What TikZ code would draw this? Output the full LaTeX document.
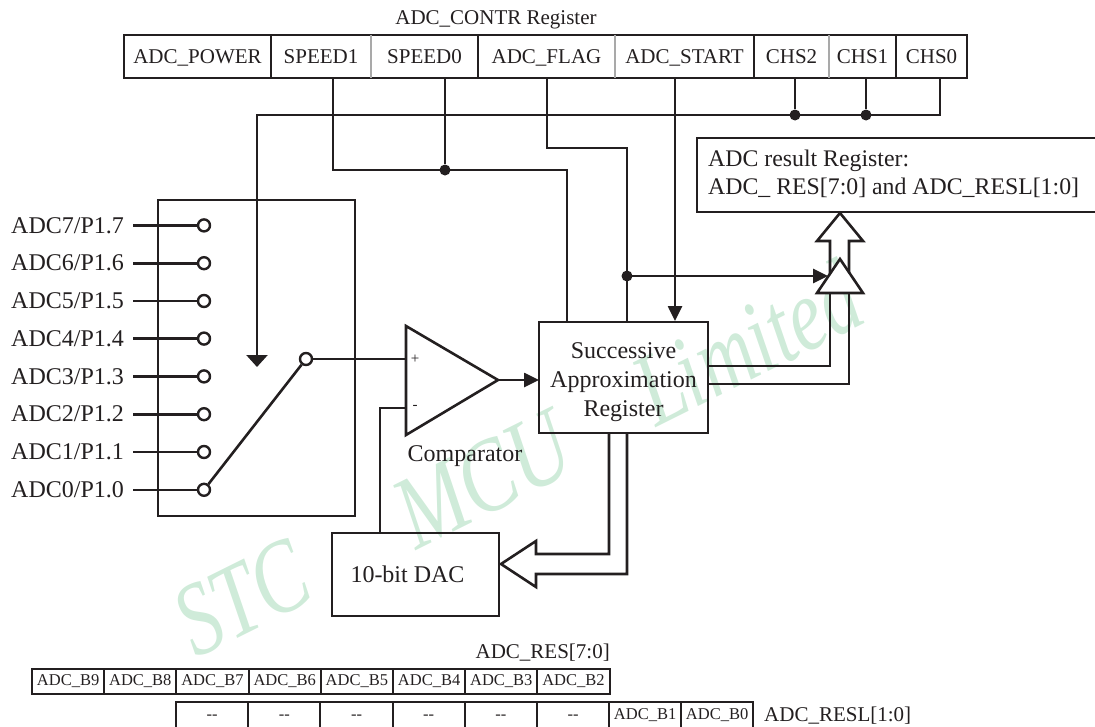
\documentclass[tikz,border=0pt]{standalone}
\usepackage{fontspec}
\setmainfont{Liberation Serif}
\usetikzlibrary{arrows.meta,calc}
\definecolor{ink}    {HTML}{231F20}
\definecolor{seam}   {HTML}{A9A9A9}
\definecolor{stamp}  {HTML}{CFEBD9}
\newcommand{\fs}[1]{\fontsize{#1}{#1}\selectfont}
\tikzset{
  >=stealth,
  % --- nodes
  box/.style    = {draw=ink, line width=2.6pt, inner sep=0pt, outer sep=0pt, align=center,
                   text=ink, font=\fs{24}},
  reg/.style    = {box, anchor=north west, minimum height=43pt, text height=17pt, text depth=3pt,
                   font=\fs{21}},
  cell/.style   = {box, anchor=north west, minimum width=72.2pt, line width=1.9pt, font=\fs{16.5}},
  pin/.style    = {circle, draw=ink, fill=white, line width=2.4pt, inner sep=0pt, minimum size=12pt},
  dot/.style    = {circle, fill=ink, inner sep=0pt, minimum size=11pt},
  lbl/.style    = {inner sep=0pt, text=ink, font=\fs{24}},
  small/.style  = {lbl, font=\fs{21}},
  wm/.style     = {rotate=26.5, anchor=base west, text=stamp, inner sep=0pt, font=\fs{104}\itshape},
  % --- edges
  e/.style      = {draw=ink, line width=2.6pt},
  ea/.style     = {e, -{Triangle[length=15pt,width=14pt]}},
  sep/.style    = {draw=seam, line width=2.2pt},
}
\begin{document}
\begin{tikzpicture}[x=1pt,y=-1pt]
  \useasboundingbox (0,0) rectangle (1095,726);
  \node[wm, xscale=.76] (wmstc) at (196,659) {STC};
  \node[wm, xscale=.79] (wmmcu) at (416,551) {MCU};
  \node[wm, xscale=.75] (wmltd) at (656,428) {Limited};
  % --- control register
  \node[small, anchor=base] (regname) at (496,24) {ADC\_CONTR Register};
  \node[reg, minimum width=147pt] (power) at (124,35) {ADC\_POWER};
  \node[reg, minimum width=100pt] (speedb) at (271,35) {SPEED1};
  \node[reg, minimum width=107pt] (speeda) at (371,35) {SPEED0};
  \node[reg, minimum width=137pt] (flag) at (478,35) {ADC\_FLAG};
  \node[reg, minimum width=139pt] (start) at (615,35) {ADC\_START};
  \node[reg, minimum width=75pt] (chsc) at (754,35) {CHS2};
  \node[reg, minimum width=67pt] (chsb) at (829,35) {CHS1};
  \node[reg, minimum width=71pt] (chsa) at (896,35) {CHS0};
  \draw[sep] (speedb.north east) -- (speedb.south east);
  \draw[sep] (flag.north east) -- (flag.south east);
  \draw[sep] (chsc.north east) -- (chsc.south east);
  % --- blocks
  \node[box, minimum width=197pt, minimum height=316pt, anchor=north west] (mux) at (158,200) {};
  \node[box, minimum width=169pt, minimum height=111pt, anchor=north west] (sar) at (539,322) {};
  \node[lbl, align=center, font=\fontsize{24}{29}\selectfont] (sartext) at (623.5,382.5)
       {Successive\\Approximation\\Register};
  \node[box, minimum width=167pt, minimum height=83pt, anchor=north west] (dac) at (332,533) {10-bit DAC\hspace{16pt}};
  \node[box, minimum width=404pt, minimum height=74pt, anchor=north west] (result) at (697,138) {};
  \node[lbl, anchor=north west, align=left, font=\fontsize{23.8}{28}\selectfont] (resulttext) at (708,150)
       {ADC result Register:\\ADC\_ RES[7:0] and ADC\_RESL[1:0]};
  % --- inputs
  \foreach \n/\y in {7/225.4,6/263.2,5/301,4/338.6,3/376.4,2/414.2,1/452,0/489.8} {
    \node[lbl, anchor=west, text width=122pt] (in\n) at (11,\y) {ADC\n/P1.\n};
    \node[pin] (pin\n) at (204,\y) {};
    \draw[e] (in\n.east) -- (pin\n);
  }
  \node[pin] (pinout) at (306,359) {};
  \draw[e] (pin0) -- (pinout);
  % --- comparator
  \draw[e, line join=miter] (406,326) coordinate (ctop) -- (406,435) -- (498,380) coordinate (ctip) -- cycle;
  \coordinate (cplus) at (406,359);
  \coordinate (cminus) at (406,408);
  \node[lbl, font=\fs{15}] (plus) at (415,359) {+};
  \node[lbl, font=\fs{15}] (minus) at (415,407) {-};
  \node[lbl] (cmpname) at (465,456) {Comparator};
  \draw[e] (pinout) -- (cplus);
  \draw[ea] (ctip) -- (sar.west |- ctip);
  \draw[e] (cminus) -| (dac.north -| 380,0);
  % --- control wires
  \coordinate (tapb) at (333,78);
  \coordinate (tapa) at (445,78);
  \coordinate (tapf) at (547,78);
  \coordinate (taps) at (675,78);
  \coordinate (tapx) at (795,78);
  \coordinate (tapy) at (866,78);
  \coordinate (tapz) at (940,78);
  \coordinate (muxsel) at (257,367);
  \node[dot] (jspeed) at (445,170) {};
  \node[dot] (jchsc) at (795,115) {};
  \node[dot] (jchsb) at (866,115) {};
  \node[dot] (jflag) at (627,276) {};
  \coordinate (resin) at (828,276);
  \draw[e, -{Triangle[length=12pt,width=21pt]}] (tapz) |- (jchsb.center) -- (jchsc.center) -- (257,115) -- (muxsel);
  \draw[e] (tapx) -- (jchsc);
  \draw[e] (tapy) -- (jchsb);
  \draw[e] (tapa) -- (jspeed);
  \draw[e] (tapb) |- (jspeed.center) -- (567,170) -- (567,322);
  \draw[e] (tapf) |- (627,148) -- (jflag.center) -- (627,322);
  \draw[ea] (taps) -- (675,321);
  \draw[ea] (jflag.center) -- (resin);
  % --- double arrows
  \draw[e, line join=miter] (609,433) -- (609,554) -- (536,554) -- (536,541) -- (501,564)
       -- (536,587) -- (536,574) -- (627,574) -- (627,433);
  \draw[e, line join=miter] (830,285) -- (830,241) -- (817,241) -- (840,213) -- (863,241) -- (849,241) -- (849,285);
  \draw[e, fill=white, line join=miter] (840,259) coordinate (trtip) -- (817,293) -- (863,293) -- cycle;
  \draw[e] (708,366) -| (830,293);
  \draw[e] (708,384) -| (849,293);
  % --- result bits
  \node[small, anchor=east] (resname) at (610,653) {ADC\_RES[7:0]};
  \foreach \n [count=\i from 0] in {9,8,7,6,5,4,3,2}
    \node[cell, minimum height=25pt] (bit\n) at ({32+72.2*\i},669) {ADC\_B\n};
  \foreach \i in {0,...,5}
    \node[cell, minimum height=26pt, text height=8pt, text depth=0pt] (blank\i) at ({176+72.2*\i},702) {-{}-};
  \node[cell, minimum height=26pt] (bitb) at (609,702) {ADC\_B1};
  \node[cell, minimum height=26pt] (bita) at (681,702) {ADC\_B0};
  \node[small, anchor=west] (reslname) at (764,716) {ADC\_RESL[1:0]};
\end{tikzpicture}
\end{document}
